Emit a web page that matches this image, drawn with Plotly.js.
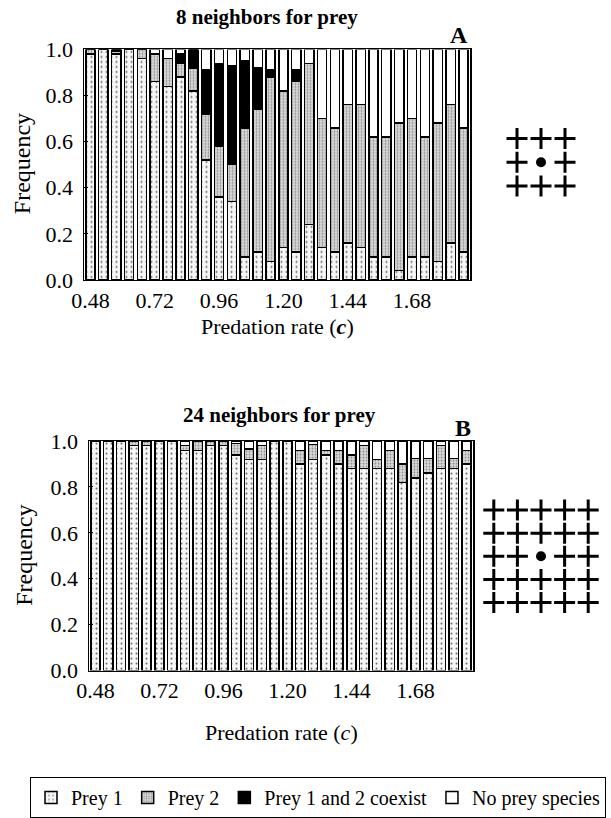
<!DOCTYPE html>
<html>
<head>
<meta charset="utf-8">
<script src="https://cdn.plot.ly/plotly-3.0.1.min.js"></script>
<style>html,body{margin:0;padding:0;background:#fff;}</style>
</head>
<body>
<div id="chart" style="width:611px;height:818px;"></div>
<script>
// Predation rate (c) categories: 30 bars
var predationRate = [0.480,0.528,0.576,0.624,0.672,0.720,0.768,0.816,0.864,0.912,
                     0.960,1.008,1.056,1.104,1.152,1.200,1.248,1.296,1.344,1.392,
                     1.440,1.488,1.536,1.584,1.632,1.680,1.728,1.776,1.824,1.872];
var tickValues = [0.48,0.72,0.96,1.20,1.44,1.68];
var tickLabels = ["0.48","0.72","0.96","1.20","1.44","1.68"];

// Panel A: 8 neighbors for prey
var aPrey1   = [0.98,1.00,0.98,1.00,0.96,0.86,0.84,0.88,0.82,0.52,0.36,0.34,0.10,0.12,0.08,
                0.14,0.12,0.24,0.14,0.12,0.16,0.14,0.10,0.10,0.04,0.10,0.10,0.08,0.16,0.12];
var aPrey2   = [0.02,0.00,0.01,0.00,0.04,0.12,0.12,0.06,0.10,0.20,0.22,0.16,0.56,0.62,0.80,
                0.68,0.74,0.70,0.56,0.54,0.60,0.62,0.52,0.52,0.64,0.60,0.52,0.60,0.60,0.54];
var aCoexist = [0.00,0.00,0.01,0.00,0.00,0.00,0.00,0.04,0.08,0.19,0.36,0.43,0.29,0.18,0.03,
                0.00,0.05,0.00,0.00,0.00,0.00,0.00,0.00,0.00,0.00,0.00,0.00,0.00,0.00,0.00];
var aNone    = [0.00,0.00,0.00,0.00,0.00,0.02,0.04,0.02,0.00,0.09,0.06,0.07,0.05,0.08,0.09,
                0.18,0.09,0.06,0.30,0.34,0.24,0.24,0.38,0.38,0.32,0.30,0.38,0.32,0.24,0.34];

// Panel B: 24 neighbors for prey
var bPrey1   = [1.00,1.00,1.00,0.98,0.98,1.00,1.00,0.96,0.96,0.98,0.98,0.94,0.92,0.92,1.00,
                1.00,0.90,0.92,0.94,0.90,0.88,0.88,0.88,0.88,0.82,0.84,0.86,0.88,0.88,0.90];
var bPrey2   = [0.00,0.00,0.00,0.02,0.02,0.00,0.00,0.02,0.04,0.02,0.02,0.05,0.045,0.06,0.00,
                0.00,0.06,0.065,0.02,0.06,0.06,0.10,0.04,0.08,0.08,0.085,0.065,0.10,0.045,0.06];
var bCoexist = [0,0,0,0,0,0,0,0,0,0,0,0,0,0,0,0,0,0,0,0,0,0,0,0,0,0,0,0,0,0];
var bNone    = [0.00,0.00,0.00,0.00,0.00,0.00,0.00,0.02,0.00,0.00,0.00,0.01,0.035,0.02,0.00,
                0.00,0.04,0.015,0.04,0.04,0.06,0.02,0.08,0.04,0.10,0.075,0.075,0.02,0.075,0.04];

var seriesNames = ["Prey 1","Prey 2","Prey 1 and 2 coexist","No prey species"];

var W = 611, H = 818;
function px(x){ return x / W; }
function py(y){ return 1 - y / H; }

var styles = [
  {color:"#ffffff", pattern:{shape:".", fgcolor:"#666666", bgcolor:"#f6f6f6", size:5, solidity:0.12}},
  {color:"#d4d4d4", pattern:{shape:".", fgcolor:"#8c8c8c", bgcolor:"#dadada", size:3, solidity:0.28}},
  {color:"#000000"},
  {color:"#ffffff"}
];

var traces = [];
function addPanel(series, xa, ya, showLegend){
  series.forEach(function(vals, k){
    var m = {color: styles[k].color, line:{color:"#000", width:1.5}};
    if (styles[k].pattern) m.pattern = styles[k].pattern;
    traces.push({
      type:"bar", x: predationRate, y: vals, name: seriesNames[k],
      xaxis: xa, yaxis: ya, marker: m, legendgroup: seriesNames[k],
      showlegend: showLegend, hoverinfo:"x+y+name"
    });
  });
}
addPanel([aPrey1,aPrey2,aCoexist,aNone], "x", "y", true);
addPanel([bPrey1,bPrey2,bCoexist,bNone], "x2", "y2", false);

// neighborhood glyphs (decoration): grid of crosses with focal dot
function addGlyph(n, xa, ya){
  var cx=[], cy=[];
  var c = (n-1)/2;
  for (var i=0;i<n;i++) for (var j=0;j<n;j++){
    if (i===c && j===c) continue;
    cx.push(i); cy.push(j);
  }
  traces.push({type:"scatter", mode:"markers", x:cx, y:cy, xaxis:xa, yaxis:ya,
    marker:{symbol:"cross-thin", size:15, line:{color:"#000", width:3}},
    showlegend:false, hoverinfo:"skip"});
  traces.push({type:"scatter", mode:"markers", x:[c], y:[c], xaxis:xa, yaxis:ya,
    marker:{symbol:"circle", size:10, color:"#000"}, showlegend:false, hoverinfo:"skip"});
}
addGlyph(3, "x3", "y3");
addGlyph(5, "x4", "y4");

var serif = "Liberation Serif, Times New Roman, serif";
var tickFont = {family:serif, size:22, color:"#000"};

function xAxis(l, r, anchor){
  return {domain:[px(l), px(r)], range:[0.456, 1.896], anchor:anchor,
    tickvals:tickValues, ticktext:tickLabels, ticks:"", showgrid:false, zeroline:false,
    showline:true, mirror:true, linecolor:"#000", linewidth:1.5, tickfont:tickFont, fixedrange:true};
}
function yAxis(t, b, anchor){
  return {domain:[py(b), py(t)], range:[0,1], anchor:anchor, dtick:0.2, tick0:0, tickformat:".1f",
    ticks:"inside", ticklen:4, tickcolor:"#000", showgrid:false, zeroline:false,
    showline:true, mirror:true, linecolor:"#000", linewidth:1.5, tickfont:tickFont,
    ticklabelstandoff:5, fixedrange:true};
}
function hidden(d0, d1, r, anchor){
  return {domain:[d0, d1], range:r, anchor:anchor, visible:false, fixedrange:true};
}
function ann(text, x, y, size, extra){
  var a = {text:text, x:px(x), y:py(y), xref:"paper", yref:"paper", xanchor:"center",
    yanchor:"middle", showarrow:false, font:{family:serif, size:size, color:"#000"}};
  for (var k in (extra||{})) a[k] = extra[k];
  return a;
}

var layout = {
  width:W, height:H, margin:{l:0,r:0,t:0,b:0},
  paper_bgcolor:"#fff", plot_bgcolor:"#fff",
  barmode:"stack", bargap:0.28,
  font:{family:serif, color:"#000"},
  xaxis: xAxis(84, 470, "y"),
  yaxis: yAxis(50, 283, "x"),
  xaxis2: xAxis(89, 473, "y2"),
  yaxis2: yAxis(446, 678, "x2"),
  xaxis3: hidden(px(505), px(577), [-0.5, 2.5], "y3"),
  yaxis3: hidden(py(200), py(128), [-0.5, 2.5], "x3"),
  xaxis4: hidden(px(482), px(600), [-0.5, 4.5], "y4"),
  yaxis4: hidden(py(621), py(504), [-0.5, 4.5], "x4"),
  showlegend:true,
  legend:{orientation:"h", x:px(30), y:py(786), xanchor:"left", yanchor:"top",
    bordercolor:"#000", borderwidth:1, font:{family:serif, size:20, color:"#000"},
    traceorder:"normal", itemwidth:30, bgcolor:"#fff"},
  annotations:[
    ann("<b>8 neighbors for prey</b>", 267, 17, 21),
    ann("<b>A</b>", 470, 35, 24, {xanchor:"right"}),
    ann("Predation rate (<b><i>c</i></b>)", 277, 330, 22),
    ann("Frequency", 22, 166, 24, {textangle:-90}),
    ann("<b>24 neighbors for prey</b>", 279, 420, 21),
    ann("<b>B</b>", 473, 433, 24, {xanchor:"right"}),
    ann("Predation rate (<i>c</i>)", 281, 741, 22),
    ann("Frequency", 24, 562, 24, {textangle:-90})
  ]
};

Plotly.newPlot("chart", traces, layout, {displayModeBar:false, staticPlot:true});
</script>
</body>
</html>
